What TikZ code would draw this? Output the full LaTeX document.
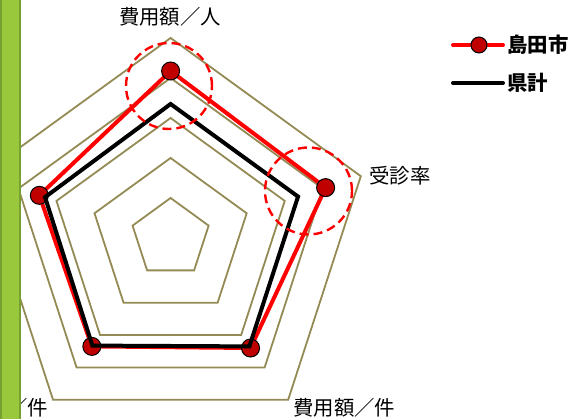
\documentclass[tikz,border=0pt]{standalone}
\usepackage{fontspec}
\setmainfont{Noto Sans CJK JP}
\begin{document}
\begin{tikzpicture}[x=1pt,y=1pt,
  grid/.style={draw=gridc, line width=1.8pt, line join=miter},
  shimada/.style={draw=red, line width=4pt, line join=round},
  ken/.style={draw=black, line width=4pt, line join=miter},
  marker/.style={circle, draw=black, fill=mred, line width=1pt, minimum size=18pt, inner sep=0pt},
  hilite/.style={draw=red, line width=2.4pt, dash pattern=on 9pt off 5pt},
  axlabel/.style={font=\fontsize{20.4}{20.4}\selectfont, inner sep=0pt},
  leglabel/.style={font=\fontsize{20.4}{20.4}\selectfont\bfseries, inner sep=0pt, anchor=west}
]
\definecolor{gridc}{RGB}{148,138,84}
\definecolor{mred}{RGB}{192,0,0}
\definecolor{barfill}{RGB}{154,200,60}
\definecolor{barline}{RGB}{118,160,48}
\useasboundingbox (0,0) rectangle (581,419);
\fill[white] (0,0) rectangle (581,419);
% grid pentagons
\begin{scope}[shift={(170.6,181)}]
  \foreach \r in {40,80,120,160,200}{
    \draw[grid] (90:\r) -- (18:\r) -- (-54:\r) -- (-126:\r) -- (162:\r) -- cycle;
  }
  \coordinate (r1) at (90:167);
  \coordinate (r2) at (18:163);
  \coordinate (r3) at (-54:136);
  \coordinate (r4) at (-126:134);
  \coordinate (r5) at (162:138);
  \coordinate (k1) at (90:134);
  \coordinate (k2) at (18:134);
  \coordinate (k3) at (-54:134);
  \coordinate (k4) at (-126:133);
  \coordinate (k5) at (162:132);
\end{scope}
% Shimada series
\draw[shimada] (r1) -- (r2) -- (r3) -- (r4) -- (r5) -- cycle;
\foreach \i in {1,...,5}{ \node[marker] (m\i) at (r\i) {}; }
% prefecture series
\draw[ken] (k1) -- (k2) -- (k3) -- (k4) -- (k5) -- cycle;
% highlight circles
\node[hilite, circle, minimum size=86pt, inner sep=0pt] (h1) at (169,333) {};
\node[hilite, circle, minimum size=87pt, inner sep=0pt] (h2) at (308.5,228) {};
% axis labels
\node[axlabel] (l1) at (170,402) {費用額／人};
\node[axlabel, anchor=west] (l2) at (369,243) {受診率};
\node[axlabel, anchor=west] (l3) at (293,11) {費用額／件};
\node[axlabel, anchor=east] (l4) at (48,11) {／件};
% legend
\coordinate (a1) at (453,374);
\coordinate (a2) at (503,374);
\draw[shimada, line cap=round] (a1) -- (a2);
\node[marker, minimum size=16pt] (am) at (479,374) {};
\node[leglabel] (t1) at (507,374) {島田市};
\coordinate (b1) at (453,336);
\coordinate (b2) at (503,336);
\draw[ken, line cap=round] (b1) -- (b2);
\node[leglabel] (t2) at (507,336) {県計};
% green bar
\draw[fill=barfill, draw=barline, line width=2pt] (1,-2) rectangle (20,421);
\end{tikzpicture}
\end{document}
